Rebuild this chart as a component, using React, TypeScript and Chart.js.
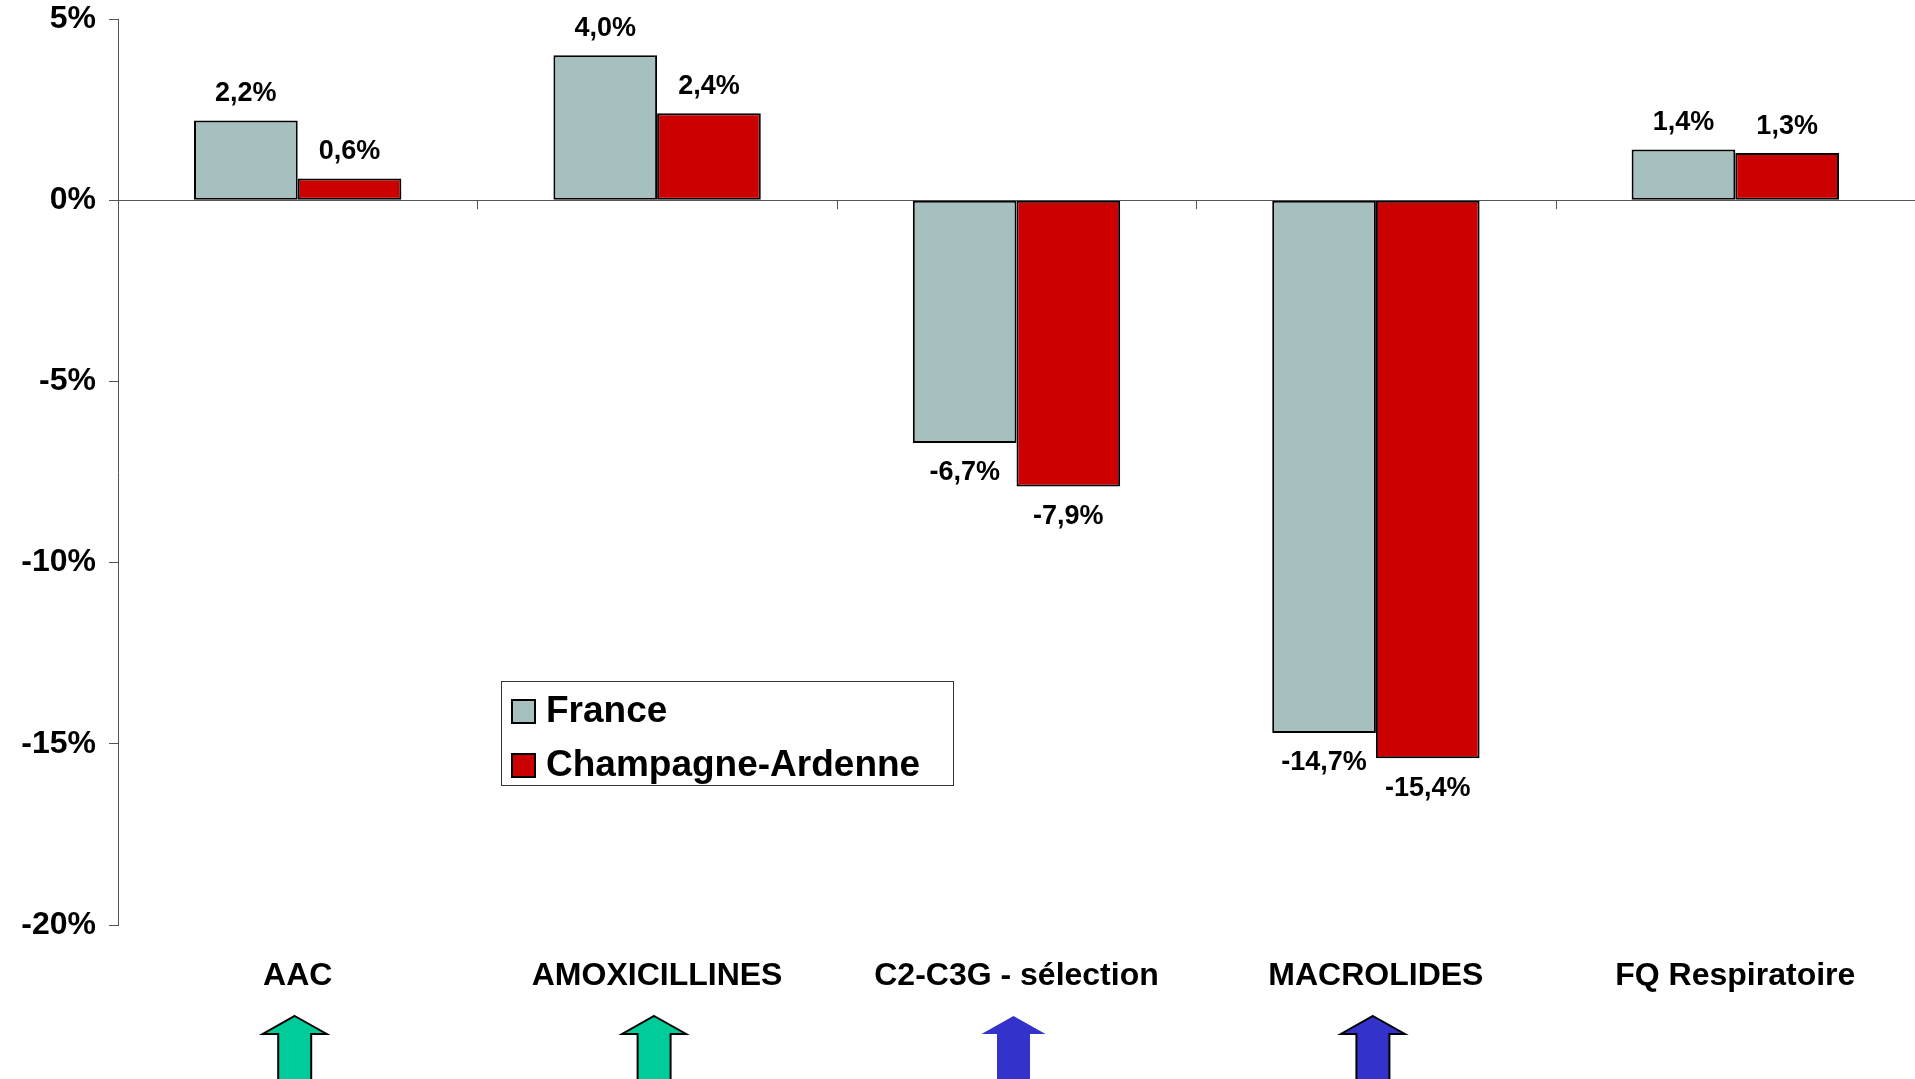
import React, { useEffect, useRef } from 'react';
import { Chart, registerables } from 'chart.js';

Chart.register(...registerables);

const categories = ['AAC', 'AMOXICILLINES', 'C2-C3G - sélection', 'MACROLIDES', 'FQ Respiratoire'];
const seriesLabels = ['France', 'Champagne-Ardenne'];
const franceValues = [2.2, 4.0, -6.7, -14.7, 1.4];
const champagneValues = [0.6, 2.4, -7.9, -15.4, 1.3];
const seriesColors = ['#A6BFBF', '#CC0000'];
const yMin = -20;
const yMax = 5;
const yStep = 5;
const arrowColors: (string | null)[] = ['#00CC99', '#00CC99', '#3333CC', '#3333CC', null];
const arrowOutlines = [true, true, false, true, false];

const FONT = "'Liberation Sans', Arial, Helvetica, sans-serif";

const fmt = (v: number) => v.toFixed(1).replace('.', ',') + '%';

const dataLabelsPlugin = {
  id: 'dataLabels',
  afterDatasetsDraw(chart: any) {
    const ctx = chart.ctx;
    ctx.save();
    ctx.font = `bold 27px ${FONT}`;
    ctx.fillStyle = '#000';
    ctx.textAlign = 'center';
    ctx.textBaseline = 'middle';
    chart.data.datasets.forEach((ds: any, di: number) => {
      const meta = chart.getDatasetMeta(di);
      meta.data.forEach((el: any, i: number) => {
        const v = ds.data[i] as number;
        const y = v >= 0 ? el.y - 27 : el.y + 30;
        ctx.fillText(fmt(v), el.x, y);
      });
    });
    ctx.restore();
  },
};

const categoryTicksPlugin = {
  id: 'categoryTicks',
  afterDraw(chart: any) {
    const ctx = chart.ctx;
    const xs = chart.scales.x;
    const ys = chart.scales.y;
    const zeroY = ys.getPixelForValue(0);
    ctx.save();
    ctx.strokeStyle = '#555';
    ctx.lineWidth = 1;
    for (let i = 0; i <= categories.length; i++) {
      const x = Math.round(xs.getPixelForValue(i - 0.5)) + 0.5;
      ctx.beginPath();
      ctx.moveTo(x, zeroY);
      ctx.lineTo(x, zeroY + 9);
      ctx.stroke();
    }
    ctx.restore();
  },
};

const legendPlugin = {
  id: 'customLegend',
  afterDraw(chart: any) {
    const ctx = chart.ctx;
    const bx = 501, by = 681, bw = 452, bh = 104;
    ctx.save();
    ctx.fillStyle = '#fff';
    ctx.fillRect(bx, by, bw, bh);
    ctx.strokeStyle = '#333';
    ctx.lineWidth = 1;
    ctx.strokeRect(bx + 0.5, by + 0.5, bw, bh);
    const rows = [711, 765];
    chart.data.datasets.forEach((ds: any, i: number) => {
      const cy = rows[i];
      ctx.fillStyle = ds.backgroundColor;
      ctx.fillRect(512, cy - 11, 23, 23);
      ctx.strokeStyle = '#000';
      ctx.lineWidth = 2;
      ctx.strokeRect(512, cy - 11, 23, 23);
      ctx.fillStyle = '#000';
      ctx.font = `bold 37px ${FONT}`;
      ctx.textAlign = 'left';
      ctx.textBaseline = 'middle';
      ctx.fillText(ds.label, 546, cy + 1);
    });
    ctx.restore();
  },
};

const arrowsPlugin = {
  id: 'arrows',
  afterDraw(chart: any) {
    const ctx = chart.ctx;
    const xs = chart.scales.x;
    const top = 1016, base = 1034, bottom = chart.height + 5;
    ctx.save();
    arrowColors.forEach((col, i) => {
      if (!col) return;
      const cx = xs.getPixelForValue(i) - 3;
      ctx.beginPath();
      ctx.moveTo(cx, top);
      ctx.lineTo(cx + 32, base);
      ctx.lineTo(cx + 16.5, base);
      ctx.lineTo(cx + 16.5, bottom);
      ctx.lineTo(cx - 16.5, bottom);
      ctx.lineTo(cx - 16.5, base);
      ctx.lineTo(cx - 32, base);
      ctx.closePath();
      ctx.fillStyle = col;
      ctx.fill();
      if (arrowOutlines[i]) {
        ctx.strokeStyle = '#000';
        ctx.lineWidth = 2;
        ctx.stroke();
      }
    });
    ctx.restore();
  },
};

export default function App() {
  const ref = useRef<HTMLCanvasElement>(null);
  useEffect(() => {
    if (!ref.current) return;
    const chart = new Chart(ref.current, {
      type: 'bar',
      data: {
        labels: categories,
        datasets: [
          {
            label: seriesLabels[0],
            data: franceValues,
            backgroundColor: seriesColors[0],
            borderColor: '#000',
            borderWidth: 2,
            borderSkipped: false,
          },
          {
            label: seriesLabels[1],
            data: champagneValues,
            backgroundColor: seriesColors[1],
            borderColor: '#000',
            borderWidth: 2,
            borderSkipped: false,
          },
        ],
      },
      options: {
        responsive: false,
        animation: false,
        layout: { padding: { top: 19, right: 0, bottom: 0, left: 0 } },
        datasets: { bar: { barPercentage: 1, categoryPercentage: 0.577 } },
        plugins: { legend: { display: false }, tooltip: { enabled: false } },
        scales: {
          x: {
            position: 'bottom',
            grid: { display: false },
            border: { display: false },
            ticks: {
              color: '#000',
              font: { family: FONT, size: 32, weight: 'bold' },
              padding: 24,
              maxRotation: 0,
              autoSkip: false,
            },
            afterFit: (s: any) => {
              s.height = 154;
              s.paddingLeft = 0;
              s.paddingRight = 0;
            },
          },
          y: {
            min: yMin,
            max: yMax,
            ticks: {
              stepSize: yStep,
              color: '#000',
              font: { family: FONT, size: 32, weight: 'bold' },
              padding: 13,
              callback: (v: any) => `${v}%`,
            },
            grid: {
              drawOnChartArea: true,
              drawTicks: true,
              tickLength: 9,
              tickColor: '#555',
              color: (c: any) => (c.tick && c.tick.value === 0 ? '#555' : 'rgba(0,0,0,0)'),
              lineWidth: 1,
            },
            border: { display: true, color: '#555', width: 1 },
            afterFit: (s: any) => {
              s.width = 118;
              s.paddingTop = 0;
              s.paddingBottom = 0;
            },
          },
        },
      },
      plugins: [dataLabelsPlugin, categoryTicksPlugin, legendPlugin, arrowsPlugin],
    } as any);
    return () => chart.destroy();
  }, []);
  return (
    <div style={{ position: 'absolute', left: 0, top: 0, width: 1915, height: 1079, background: '#fff' }}>
      <canvas ref={ref} width={1915} height={1079} style={{ display: 'block' }} />
    </div>
  );
}
